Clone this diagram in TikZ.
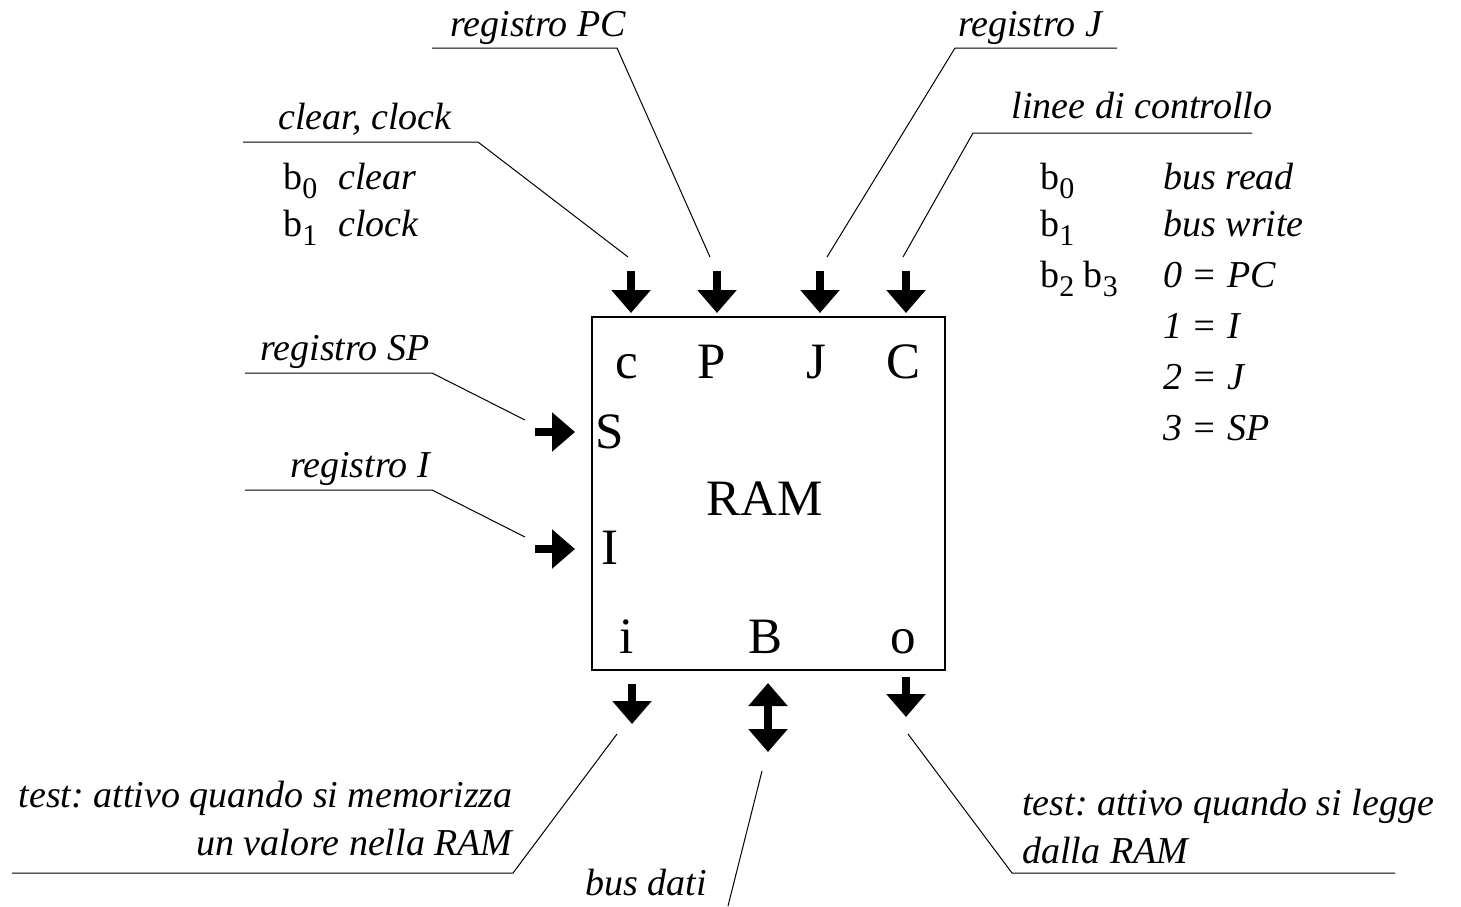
\documentclass[tikz,border=0pt]{standalone}
\usepackage{fontspec}
\setmainfont{Liberation Serif}
\usetikzlibrary{arrows.meta}
\frenchspacing

\newcommand\bsub[1]{b\raisebox{-0.55ex}{\fontsize{15}{15}\selectfont #1}}

\tikzset{
  lbl/.style={font=\fontsize{19}{23}\selectfont\itshape, inner sep=0pt, anchor=base},
  txt/.style={font=\fontsize{19}{23}\selectfont, inner sep=0pt, anchor=base west},
  pin/.style={font=\fontsize{25.5}{30}\selectfont, inner sep=0pt, anchor=base},
  lead/.style={line width=0.5pt},
  fat/.style={line width=4pt, -{Triangle[width=19pt,length=11.5pt]}},
  fatboth/.style={line width=4pt, {Triangle[width=19pt,length=11.5pt]}-{Triangle[width=19pt,length=11.5pt]}},
}

\begin{document}
\begin{tikzpicture}[x=0.5pt, y=-0.5pt]
  \useasboundingbox (0,0) rectangle (1461,906);

  \node (ram) [draw, line width=0.8pt, minimum width=176.5pt, minimum height=176.5pt] at (768.5,493.5) {};
  \node (ramName) [pin] at (765,515) {RAM};
  \foreach \n/\t/\x/\y in {pc/c/627/378, pP/P/712/378, pJ/J/816/378, pC/C/903/378,
                           pS/S/610/448, pI/I/610/564, pi/i/627/653, pB/B/765/653, po/o/903/653}
    \node (\n) [pin] at (\x,\y) {\t};

  \foreach \n/\x in {c/631, P/717, J/820, C/906} {
    \coordinate (\n from) at (\x,271);
    \coordinate (\n to) at (\x,313);
    \draw[fat] (\n from) -- (\n to);
  }
  \foreach \n/\y in {S/432, I/549} {
    \coordinate (\n from) at (535,\y);
    \coordinate (\n to) at (575,\y);
    \draw[fat] (\n from) -- (\n to);
  }
  \coordinate (i from) at (632,684);
  \coordinate (i to) at (632,724);
  \coordinate (o from) at (906,677);
  \coordinate (o to) at (906,717);
  \coordinate (B up) at (768,683);
  \coordinate (B down) at (768,752);
  \draw[fat] (i from) -- (i to);
  \draw[fat] (o from) -- (o to);
  \draw[fatboth] (B up) -- (B down);

  \node (clk) [lbl] at (365,129) {clear, clock};
  \coordinate (clkA) at (243,142);
  \coordinate (clkB) at (478,142);
  \coordinate (clkE) at (628,257);
  \draw[lead] (clkA) -- (clkB) -- (clkE);
  \node (clkB0) [txt] at (283,189) {\bsub{0}};
  \node (clkT0) [txt] at (338,189) {\itshape clear};
  \node (clkB1) [txt] at (283,236) {\bsub{1}};
  \node (clkT1) [txt] at (338,236) {\itshape clock};

  \node (regPC) [lbl] at (538,36) {registro PC};
  \coordinate (regPCA) at (432,48);
  \coordinate (regPCB) at (617,48);
  \coordinate (regPCE) at (710,257);
  \draw[lead] (regPCA) -- (regPCB) -- (regPCE);

  \node (regJ) [lbl] at (1030,36) {registro J};
  \coordinate (regJA) at (1117,48);
  \coordinate (regJB) at (955,48);
  \coordinate (regJE) at (827,257);
  \draw[lead] (regJA) -- (regJB) -- (regJE);

  \node (ctl) [lbl] at (1142,118) {linee di controllo};
  \coordinate (ctlA) at (1252,133);
  \coordinate (ctlB) at (973,133);
  \coordinate (ctlE) at (903,257);
  \draw[lead] (ctlA) -- (ctlB) -- (ctlE);
  \foreach \n/\b/\t/\y in {0/\bsub{0}/bus read/189, 1/\bsub{1}/bus write/236,
                           2/\bsub{2} \bsub{3}/0 = PC/287, 3//1 = I/338,
                           4//2 = J/389, 5//3 = SP/440} {
    \node (ctlB\n) [txt] at (1040,\y) {\b};
    \node (ctlT\n) [txt] at (1163,\y) {\itshape \t};
  }

  \node (regSP) [lbl] at (345,360) {registro SP};
  \coordinate (regSPA) at (245,373);
  \coordinate (regSPB) at (432,373);
  \coordinate (regSPE) at (525,420);
  \draw[lead] (regSPA) -- (regSPB) -- (regSPE);

  \node (regI) [lbl] at (360,477) {registro I};
  \coordinate (regIA) at (245,490);
  \coordinate (regIB) at (432,490);
  \coordinate (regIE) at (525,537);
  \draw[lead] (regIA) -- (regIB) -- (regIE);

  \node (tstW1) [lbl, anchor=base east] at (513,807) {test: attivo quando si memorizza};
  \node (tstW2) [lbl, anchor=base east] at (513,855) {un valore nella RAM};
  \coordinate (tstWA) at (12,873);
  \coordinate (tstWB) at (513,873);
  \coordinate (tstWE) at (617,734);
  \draw[lead] (tstWA) -- (tstWB) -- (tstWE);

  \node (bus) [lbl] at (646,895) {bus dati};
  \coordinate (busA) at (728,906);
  \coordinate (busE) at (762,771);
  \draw[lead] (busA) -- (busE);

  \node (tstR1) [lbl, anchor=base west] at (1022,815) {test: attivo quando si legge};
  \node (tstR2) [lbl, anchor=base west] at (1022,863) {dalla RAM};
  \coordinate (tstRA) at (1395,873);
  \coordinate (tstRB) at (1012,873);
  \coordinate (tstRE) at (908,734);
  \draw[lead] (tstRA) -- (tstRB) -- (tstRE);
\end{tikzpicture}
\end{document}
